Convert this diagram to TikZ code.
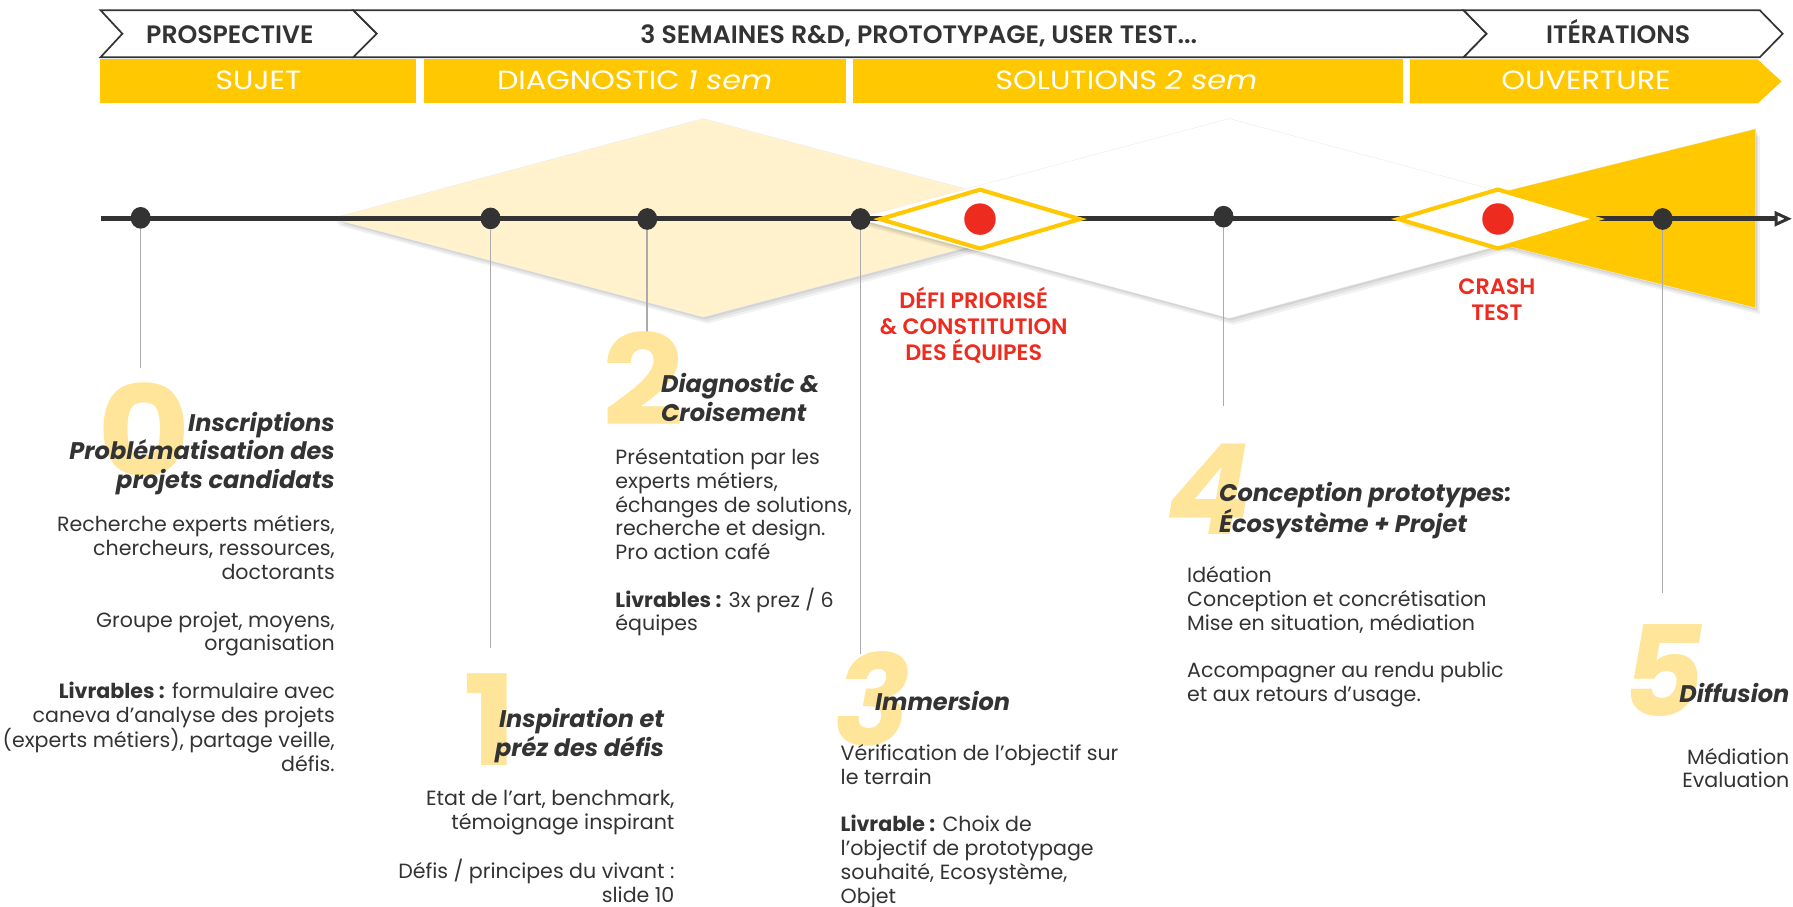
\documentclass[tikz,border=0pt]{standalone}
\usepackage{fontspec}
\usepackage{graphicx}
\setmainfont{Poppins}
\newfontfamily\phasefont[FakeStretch=1.15]{Poppins}
\newfontfamily\semifont{Poppins SemiBold}
\usetikzlibrary{arrows.meta,shapes.geometric}
\definecolor{ink}{HTML}{333333}
\definecolor{gold}{HTML}{FFC800}
\definecolor{pale}{HTML}{FFF2CC}
\definecolor{numc}{HTML}{FFE599}
\definecolor{redc}{HTML}{EE2B1F}
\definecolor{stemc}{HTML}{ABABAB}
\newcommand\tstrut{\rule{0pt}{20pt}}
\newcommand\wnum[1]{\scalebox{1.14}[1]{#1}}
\begin{document}
\begin{tikzpicture}[x=1pt,y=-1pt,
  hdrbox/.style={draw=ink, line width=1.5pt, fill=white, line join=miter},
  hdrtxt/.style={font=\semifont\fontsize{22}{24}\selectfont, text=ink, inner sep=0, anchor=base},
  phase/.style={fill=gold},
  phasetxt/.style={font=\phasefont\fontsize{23}{26}\selectfont, text=white, inner sep=0, anchor=base},
  shad/.style={preaction={fill=black,opacity=0.05,transform canvas={shift={(4pt,-6pt)}}},
               preaction={fill=black,opacity=0.06,transform canvas={shift={(2.8pt,-4.2pt)}}},
               preaction={fill=black,opacity=0.07,transform canvas={shift={(1.5pt,-2.2pt)}}},
               preaction={draw=black!7,line width=1pt}},
  tdot/.style={ellipse, fill=ink, minimum width=17.5pt, minimum height=19pt, inner sep=0},
  rdot/.style={circle, fill=redc, minimum size=27.5pt, inner sep=0},
  gem/.style={diamond, draw=gold, line width=3.6pt, fill=white, minimum width=176pt, minimum height=53pt, inner sep=0},
  stemline/.style={draw=stemc, line width=1.4pt},
  bignum/.style={font=\fontsize{110}{110}\selectfont\bfseries, text=numc, inner sep=0},
  bignumi/.style={font=\fontsize{110}{110}\selectfont\bfseries\itshape, text=numc, inner sep=0},
  ttl/.style={font=\fontsize{21}{25}\selectfont\bfseries\itshape, text=ink, inner sep=0},
  bodytxt/.style={font=\fontsize{18}{20.8}\selectfont, text=ink, inner sep=0},
  redlab/.style={font=\semifont\fontsize{19.5}{22.7}\selectfont, text=redc, align=center, inner sep=0, anchor=north}
]
\useasboundingbox (0,0) rectangle (1568,793);

% ---------- header chevrons ----------
\path[hdrbox] (88,9) -- (309,9) -- (329.5,29.5) -- (309,50) -- (88,50) -- (107,29.5) -- cycle;
\path[hdrbox] (309,9) -- (1280,9) -- (1300,29.5) -- (1280,50) -- (309,50) -- (329.5,29.5) -- cycle;
\path[hdrbox] (1280,9) -- (1539,9) -- (1559,29.5) -- (1539,50) -- (1280,50) -- (1300,29.5) -- cycle;
\node[hdrtxt] (hp) at (201,38) {PROSPECTIVE};
\node[hdrtxt] (hs) at (803.5,38) {3 SEMAINES R\&D, PROTOTYPAGE, USER TEST...};
\node[hdrtxt] (hi) at (1415,38) {ITÉRATIONS};

% ---------- phase bar ----------
\fill[phase] (87.5,52) rectangle (364,90.5);
\fill[phase] (371,52) rectangle (739.5,90.5);
\fill[phase] (746,52) rectangle (1227,90.5);
\fill[phase] (1233,52) -- (1537,52) -- (1558,71.2) -- (1537,90.5) -- (1233,90.5) -- cycle;
\node[phasetxt] (ps) at (226,78.7) {SUJET};
\node[phasetxt] (pd) at (555,78.7) {DIAGNOSTIC \textit{1 sem}};
\node[phasetxt] (pso) at (985,78.7) {SOLUTIONS \textit{2 sem}};
\node[phasetxt] (po) at (1387,78.7) {OUVERTURE};

% ---------- big background shapes ----------
\path[shad, fill=pale] (291,191) -- (615,104) -- (940,191) -- (615,277) -- cycle;
\path[shad, fill=white] (750,191) -- (1075,104) -- (1398,191) -- (1075,278) -- cycle;
\path[shad, fill=gold] (1222,191) -- (1535,113) -- (1535,269) -- cycle;

% ---------- coordinates ----------
\coordinate (e0) at (123,322);
\coordinate (e1) at (429,567);
\coordinate (e2) at (566,293);
\coordinate (e3) at (752.5,572);
\coordinate (e4) at (1070,355);
\coordinate (e5) at (1454,519);
\coordinate (l0) at (88,191.3);
\coordinate (l1) at (1567,191.3);

% ---------- timeline ----------
\draw[ink, line width=4pt, -{Triangle[open, length=15pt, width=13pt, line width=2.6pt]}] (l0) -- (l1);

\node[tdot] (d0) at (123,190.5) {};
\node[tdot] (d1) at (429,191) {};
\node[tdot] (d2) at (566,191.5) {};
\node[tdot] (d3) at (752.5,191.5) {};
\node[tdot] (d4) at (1070,189.5) {};
\node[tdot] (d5) at (1454,191.5) {};
\draw[stemline] (d0.south) -- (e0);
\draw[stemline] (d1.south) -- (e1);
\draw[stemline] (d2.south) -- (e2);
\draw[stemline] (d3.south) -- (e3);
\draw[stemline] (d4.south) -- (e4);
\draw[stemline] (d5.south) -- (e5);

\node[gem] (k1) at (857,191.6) {};
\node[gem] (k2) at (1310,191.5) {};
\node[rdot] (r1) at (k1) {};
\node[rdot] (r2) at (k2) {};

\node[redlab] (defi) at (851.5,249.5) {\tstrut DÉFI PRIORISÉ\\\& CONSTITUTION\\DES ÉQUIPES};
\node[redlab] (crash) at (1309,237) {\tstrut CRASH\\TEST};

% ---------- big numbers ----------
\node[bignum] (n0) at (126,376) {\wnum{0}};
\node[bignum] (n1) at (429,629.5) {\wnum{1}};
\node[bignum] (n2) at (563,331.5) {\wnum{2}};
\node[bignumi] (n3) at (763,611) {3};
\node[bignumi] (n4) at (1057,428) {4};
\node[bignumi] (n5) at (1455,586) {5};

% ---------- block 0 ----------
\node[ttl, align=right, anchor=north east] (t0) at (293,357) {\tstrut Inscriptions\\Problématisation des\\projets candidats};
\node[bodytxt, align=right, anchor=north east] (b0) at (293,445) {\tstrut Recherche experts métiers,\\chercheurs, ressources,\\doctorants\\[20.8pt]Groupe projet, moyens,\\organisation\\[20.8pt]\textbf{Livrables :} formulaire avec\\caneva d’analyse des projets\\(experts métiers), partage veille,\\défis.};

% ---------- block 1 ----------
\node[ttl, align=right, anchor=north east] (t1) at (581,616) {\tstrut Inspiration et\\préz des défis};
\node[bodytxt, align=right, anchor=north east] (b1) at (590,684) {\tstrut Etat de l’art, benchmark,\\témoignage inspirant\\[20.8pt]Défis / principes du vivant :\\slide 10};

% ---------- block 2 ----------
\node[ttl, align=left, anchor=north west] (t2) at (578,323) {\tstrut Diagnostic \&\\Croisement};
\node[bodytxt, align=left, anchor=north west] (b2) at (538,386) {\tstrut Présentation par les\\experts métiers,\\échanges de solutions,\\recherche et design.\\Pro action café\\[20.8pt]\textbf{Livrables :} 3x prez / 6\\équipes};

% ---------- block 3 ----------
\node[ttl, align=left, anchor=north west] (t3) at (765,601.5) {\tstrut Immersion};
\node[bodytxt, align=left, anchor=north west] (b3) at (735,645) {\tstrut Vérification de l’objectif sur\\le terrain\\[20.6pt]\textbf{Livrable :} Choix de\\l’objectif de prototypage\\souhaité, Ecosystème,\\Objet};

% ---------- block 4 ----------
\node[ttl, align=left, anchor=north west] (t4) at (1066,418) {\tstrut Conception prototypes:\\Écosystème + Projet};
\node[bodytxt, align=left, anchor=north west] (b4) at (1038,489.5) {\tstrut Idéation\\Conception et concrétisation\\Mise en situation, médiation\\[20.8pt]Accompagner au rendu public\\et aux retours d’usage.};

% ---------- block 5 ----------
\node[ttl, align=right, anchor=north east] (t5) at (1565,594) {\tstrut Diffusion};
\node[bodytxt, align=right, anchor=north east] (b5) at (1565,648) {\tstrut Médiation\\Evaluation};
\end{tikzpicture}
\end{document}
